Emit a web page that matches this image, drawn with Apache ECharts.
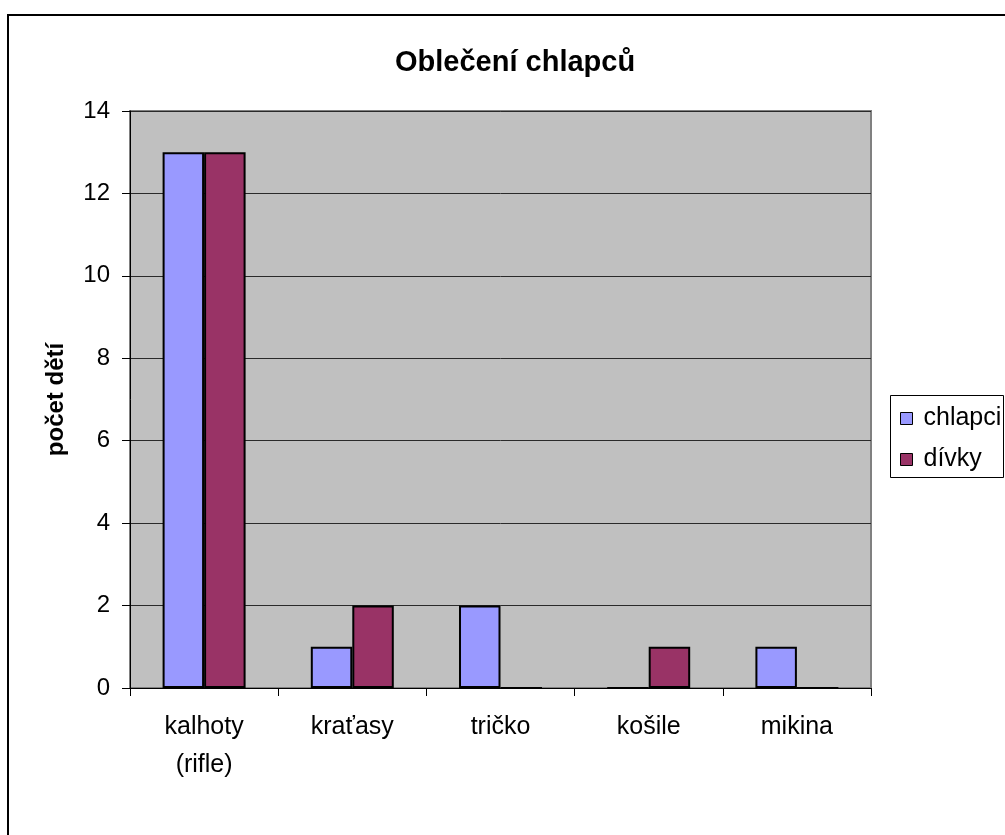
<!DOCTYPE html>
<html>
<head>
<meta charset="utf-8">
<title>Oblečení chlapců</title>
<script src="https://cdn.jsdelivr.net/npm/echarts@6/dist/echarts.min.js"></script>
<style>
    html, body { margin: 0; padding: 0; background: #fff; }
    #chart { width: 1005px; height: 835px; }
</style>
</head>
<body>
<div id="chart"></div>
<script>
    // data
    var categories = ['kalhoty\n(rifle)', 'kraťasy', 'tričko', 'košile', 'mikina'];
    var chlapci = [13, 1, 2, 0, 1];
    var divky = [13, 2, 0, 1, 0];
    var seriesNames = ['chlapci', 'dívky'];

    var font = 'Arial, "Liberation Sans", sans-serif';

    var chart = echarts.init(document.getElementById('chart'));
    chart.setOption({
        backgroundColor: '#fff',
        animation: false,
        title: {
            text: 'Oblečení chlapců',
            left: 395,
            top: 48,
            padding: 0,
            textStyle: {
                fontFamily: font,
                fontSize: 29,
                fontWeight: 'bold',
                color: '#000',
                lineHeight: 29
            }
        },
        graphic: [
            {
                type: 'rect',
                z: 0,
                shape: { x: 8, y: 15, width: 1200, height: 1000 },
                style: { fill: 'transparent', stroke: '#000', lineWidth: 2 }
            },
            {
                type: 'rect',
                z: 1,
                shape: { x: 890.5, y: 395.5, width: 113, height: 82 },
                style: { fill: '#fff', stroke: '#000', lineWidth: 1 }
            }
        ],
        legend: {
            orient: 'vertical',
            left: 900,
            top: 406,
            padding: 0,
            itemGap: 16,
            itemWidth: 12,
            itemHeight: 12,
            icon: 'rect',
            data: seriesNames,
            itemStyle: { borderColor: '#000', borderWidth: 1 },
            textStyle: {
                fontFamily: font,
                fontSize: 25,
                lineHeight: 25,
                color: '#000',
                padding: [0, 0, 0, 6]
            }
        },
        grid: {
            left: 130,
            top: 111,
            width: 741,
            height: 577,
            show: true,
            backgroundColor: '#c0c0c0',
            borderColor: '#808080',
            borderWidth: 2
        },
        xAxis: {
            type: 'category',
            data: categories,
            axisLine: { lineStyle: { color: '#000', width: 1 } },
            axisTick: { show: true, length: 8, interval: 0, alignWithLabel: false, lineStyle: { color: '#000' } },
            axisLabel: {
                interval: 0,
                margin: 20,
                fontFamily: font,
                fontSize: 25,
                lineHeight: 38,
                color: '#000'
            },
            splitLine: { show: false }
        },
        yAxis: {
            type: 'value',
            min: 0,
            max: 14,
            interval: 2,
            name: 'počet dětí',
            nameLocation: 'middle',
            nameGap: 62,
            nameTextStyle: {
                fontFamily: font,
                fontSize: 24,
                fontWeight: 'bold',
                color: '#000'
            },
            axisLine: { show: true, lineStyle: { color: '#000', width: 1 } },
            axisTick: { show: true, length: 8, lineStyle: { color: '#000' } },
            axisLabel: {
                margin: 20,
                fontFamily: font,
                fontSize: 24,
                color: '#000'
            },
            splitLine: { show: true, lineStyle: { color: '#2a2a2a', width: 1 } }
        },
        series: [
            {
                name: seriesNames[0],
                type: 'bar',
                data: chlapci,
                barGap: '0%',
                barCategoryGap: '44%',
                itemStyle: { color: '#9999ff', borderColor: '#000', borderWidth: 2 }
            },
            {
                name: seriesNames[1],
                type: 'bar',
                data: divky,
                barGap: '0%',
                barCategoryGap: '44%',
                itemStyle: { color: '#993366', borderColor: '#000', borderWidth: 2 }
            }
        ]
    });
</script>
</body>
</html>
